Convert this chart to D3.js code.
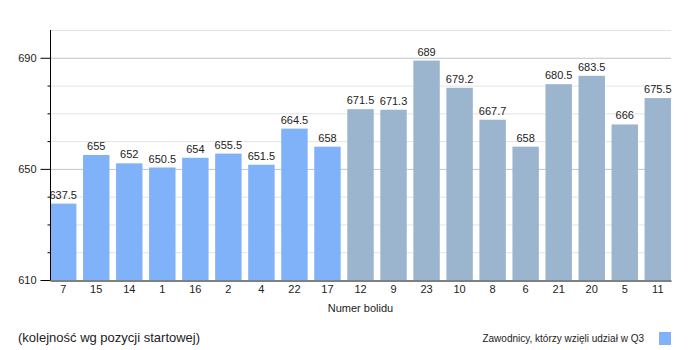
<!DOCTYPE html>
<html>
<head>
<meta charset="utf-8">
<script src="https://cdn.jsdelivr.net/npm/d3@7"></script>
<style>
  body { margin: 0; background: #fff; }
  text { font-family: "Liberation Sans", Arial, sans-serif; fill: #222; }
</style>
</head>
<body>
<div id="chart"></div>
<script>
const cars = ['7', '15', '14', '1', '16', '2', '4', '22', '17', '12', '9', '23', '10', '8', '6', '21', '20', '5', '11']
const values = [637.5, 655, 652, 650.5, 654, 655.5, 651.5, 664.5, 658, 671.5, 671.3, 689, 679.2, 667.7, 658, 680.5, 683.5, 666, 675.5]
const inQ3 = [true, true, true, true, true, true, true, true, true, false, false, false, false, false, false, false, false, false, false]
const majorTicks = [610, 650, 690]
const minorTicks = [620, 630, 640, 660, 670, 680, 700]

const width = 700
const height = 350
const margin = { top: 30, right: 29, bottom: 70, left: 50 }

const blue = '#7fb2f9'
const grey = '#9bb5cf'

const svg = d3.select('#chart')
  .append('svg')
  .attr('width', width)
  .attr('height', height)

const x = d3.scaleBand()
  .domain(cars)
  .range([margin.left, width - margin.right])
  .paddingInner(0.2)
  .paddingOuter(0)

const y = d3.scaleLinear()
  .domain([610, 700])
  .range([height - margin.bottom, margin.top])

// gridlines
svg.append('g')
  .selectAll('line')
  .data(minorTicks)
  .join('line')
  .attr('x1', margin.left)
  .attr('x2', width - margin.right)
  .attr('y1', d => y(d) + 0.5)
  .attr('y2', d => y(d) + 0.5)
  .attr('stroke', '#e4e4e4')

svg.append('g')
  .selectAll('line')
  .data(majorTicks.slice(1))
  .join('line')
  .attr('x1', margin.left)
  .attr('x2', width - margin.right)
  .attr('y1', d => y(d) + 0.5)
  .attr('y2', d => y(d) + 0.5)
  .attr('stroke', '#c4c4c4')

// bars
svg.append('g')
  .selectAll('rect')
  .data(values)
  .join('rect')
  .attr('x', (d, i) => x(cars[i]))
  .attr('width', x.bandwidth())
  .attr('y', d => y(d))
  .attr('height', d => y(610) - y(d))
  .attr('fill', (d, i) => inQ3[i] ? blue : grey)

// value labels
svg.append('g')
  .selectAll('text')
  .data(values)
  .join('text')
  .attr('x', (d, i) => x(cars[i]) + x.bandwidth() / 2)
  .attr('y', d => y(d) - 5)
  .attr('text-anchor', 'middle')
  .style('font-size', '11px')
  .text(d => d)

// y axis
const yAxis = svg.append('g')
  .attr('transform', `translate(${margin.left + 0.5},0)`)
  .call(d3.axisLeft(y).tickValues(majorTicks).tickSize(12).tickFormat(d3.format('d')))
yAxis.select('.domain').attr('stroke', '#000').attr('d', `M0,${margin.top}V${height - margin.bottom}`)
yAxis.selectAll('.tick line').attr('stroke', '#000').attr('x1', 0).attr('x2', -10)
yAxis.selectAll('.tick text').attr('x', -14).style('font-size', '11px').style('font-family', '"Liberation Sans", Arial, sans-serif').attr('fill', '#222')

svg.append('g')
  .attr('transform', `translate(${margin.left + 0.5},0)`)
  .selectAll('line')
  .data(minorTicks.filter(d => d < 700))
  .join('line')
  .attr('x1', -3)
  .attr('x2', 0)
  .attr('y1', d => y(d) + 0.5)
  .attr('y2', d => y(d) + 0.5)
  .attr('stroke', '#000')

// x axis
const xAxis = svg.append('g')
  .attr('transform', `translate(0,${height - margin.bottom + 0.5})`)
  .call(d3.axisBottom(x).tickSize(0).tickPadding(5))
xAxis.select('.domain').attr('stroke', '#000')
xAxis.selectAll('.tick text').style('font-size', '11px').style('font-family', '"Liberation Sans", Arial, sans-serif').attr('fill', '#222')

svg.append('text')
  .attr('x', (margin.left + width - margin.right) / 2)
  .attr('y', 312)
  .attr('text-anchor', 'middle')
  .style('font-size', '11px')
  .text('Numer bolidu')

svg.append('text')
  .attr('x', 18)
  .attr('y', 342)
  .style('font-size', '13px')
  .text('(kolejność wg pozycji startowej)')

svg.append('text')
  .attr('x', 644)
  .attr('y', 342)
  .attr('text-anchor', 'end')
  .style('font-size', '10px')
  .text('Zawodnicy, którzy wzięli udział w Q3')

svg.append('rect')
  .attr('x', 659)
  .attr('y', 332)
  .attr('width', 12)
  .attr('height', 13)
  .attr('fill', blue)
</script>
</body>
</html>
